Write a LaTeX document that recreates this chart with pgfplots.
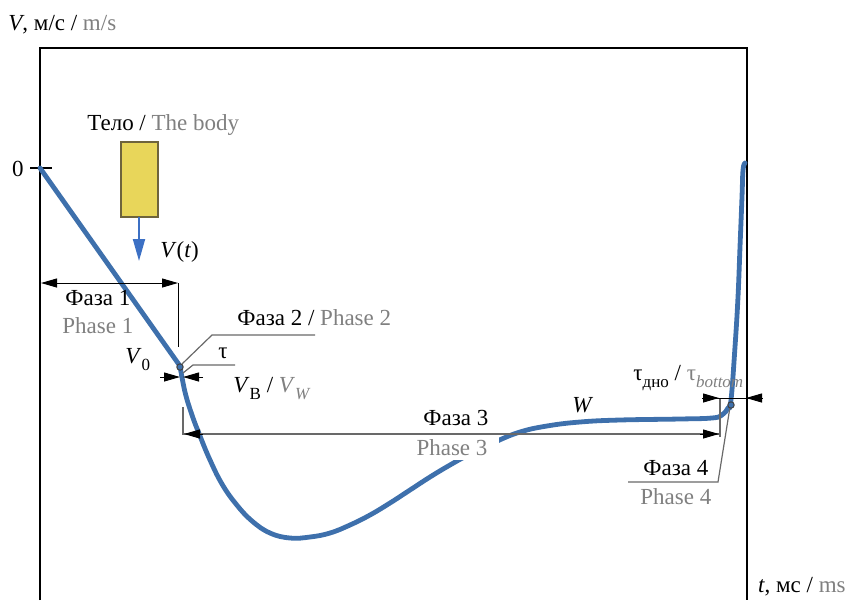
\documentclass[border=0pt]{standalone}
\usepackage{fontspec}
\setmainfont{Liberation Serif}
\usepackage{pgfplots}
\pgfplotsset{compat=1.18}
\usetikzlibrary{arrows.meta}
\definecolor{curve}{RGB}{62,112,172}
\definecolor{arrowblue}{RGB}{60,112,196}
\definecolor{bodyfill}{RGB}{232,214,90}
\definecolor{bodyedge}{RGB}{110,100,60}
\definecolor{engl}{RGB}{128,128,128}
\definecolor{lead}{RGB}{105,105,105}
\newcommand{\sub}[1]{\raisebox{-3.5pt}{\fontsize{8.5}{9}\selectfont #1}}

\begin{document}
\begin{tikzpicture}[
  every node/.style={font=\fontsize{11.5}{13}\selectfont, inner sep=0pt},
  tip/.style={-{Triangle[length=8pt,width=4.5pt]}},
]
\begin{axis}[
  x=0.5pt, y=0.5pt, y dir=reverse,
  xmin=0, xmax=847, ymin=0, ymax=600,
  hide axis, clip=false,
]
\path (0,0) rectangle (847,600);

% frame and zero tick
\draw[black, line width=1pt] (40,600) -- (40,48) -- (747,48) -- (747,600);
\draw[black, line width=0.8pt] (30,168) -- (52,168);
\node[anchor=base] at (18,176) {0};
\node[anchor=base west] at (8,30) {\textit{V}, м/с / \textcolor{engl}{m/s}};
\node[anchor=base east] at (846,592) {\textit{t}, мс / \textcolor{engl}{ms}};

% the body
\node[anchor=base west] at (87,130) {Тело / \textcolor{engl}{The body}};
\draw[bodyedge, fill=bodyfill, line width=0.6pt] (121,142) rectangle (158,217);
\draw[arrowblue, line width=1pt, -{Triangle[length=11pt,width=6pt]}] (139,217) -- (139,261);
\node[anchor=base west] at (160,257) {\textit{V}(\textit{t})};

% velocity curve
\addplot[curve, line width=2.4pt, line cap=round] coordinates {(40,168) (180,366)};
\addplot[curve, line width=2.4pt, line cap=round, smooth, tension=0.7] coordinates {
(180,366) (185,392) (192,415) (200,436) (210,460) (222,484) (236,504)
(252,521) (270,533) (290,538) (310,537) (330,533) (350,525) (370,515)
(390,503) (410,490) (430,477) (450,465) (470,454) (495,442) (520,432)
(547,426) (580,422) (620,420) (680,419) (712,418) (722,415) (728,408)
(731,400) (735,347) (738,297) (740,247) (742,197) (743,170) (745,163)};

% phase 1
\draw[black, line width=0.5pt, {Triangle[length=8pt,width=4.5pt]}-{Triangle[length=8pt,width=4.5pt]}] (41,283) -- (178,283);
\draw[black, line width=0.5pt] (178,283) -- (178,347);
\node[anchor=base west] at (65,305) {Фаза 1};
\node[anchor=base west] at (62,333) {\textcolor{engl}{Phase 1}};
\node[anchor=base west] at (125,363) {\textit{V}\sub{0}};

% phase 2 and tau
\draw[lead, line width=0.6pt] (182,364) -- (212,335) -- (315,335);
\node[anchor=base west] at (237,325) {Фаза 2 / \textcolor{engl}{Phase 2}};
\draw[lead, line width=0.6pt] (183,373) -- (193,365) -- (235,365);
\node[anchor=base west] at (218,358) {τ};
\draw[black, line width=0.5pt, tip] (160,377) -- (180,377);
\draw[black, line width=0.5pt, tip] (203,377) -- (183,377);
\draw[black!75, fill=curve, line width=0.5pt] (180,367) circle[radius=1.6pt];
\node[anchor=base west] at (233,392) {\textit{V}\sub{В} / \textcolor{engl}{\textit{V}\sub{\textit{W}}}};

% phase 3
\node[anchor=north, fill=white, inner xsep=6pt, inner ysep=2pt] at (452,435) {\textcolor{engl}{Phase 3}};
\draw[lead, line width=0.6pt] (183,407) -- (183,434) -- (720,434);
\draw[black, line width=0.5pt, tip] (203,434) -- (184,434);
\draw[black, line width=0.5pt, tip] (700,434) -- (719,434);
\node[anchor=base west] at (423,425) {Фаза 3};
\node[anchor=base west] at (572,412) {\textit{W}};

% phase 4 and tau bottom
\draw[lead, line width=0.6pt] (720,399) -- (720,437);
\draw[lead, line width=0.6pt] (730,407) -- (718,482) -- (628,482);
\node[anchor=base west] at (643,475) {Фаза 4};
\node[anchor=base west] at (640,504) {\textcolor{engl}{Phase 4}};
\draw[black, line width=0.5pt] (702,398) -- (762,398);
\draw[black, line width=0.5pt, tip] (702,398) -- (719,398);
\draw[black, line width=0.5pt, tip] (762,398) -- (746,398);
\draw[black!75, fill=curve, line width=0.5pt] (731,405) circle[radius=1.6pt];
\node[anchor=base west] at (633,380) {τ\sub{дно} / \textcolor{engl}{τ\sub{\textit{bottom}}}};
\end{axis}
\end{tikzpicture}
\end{document}
